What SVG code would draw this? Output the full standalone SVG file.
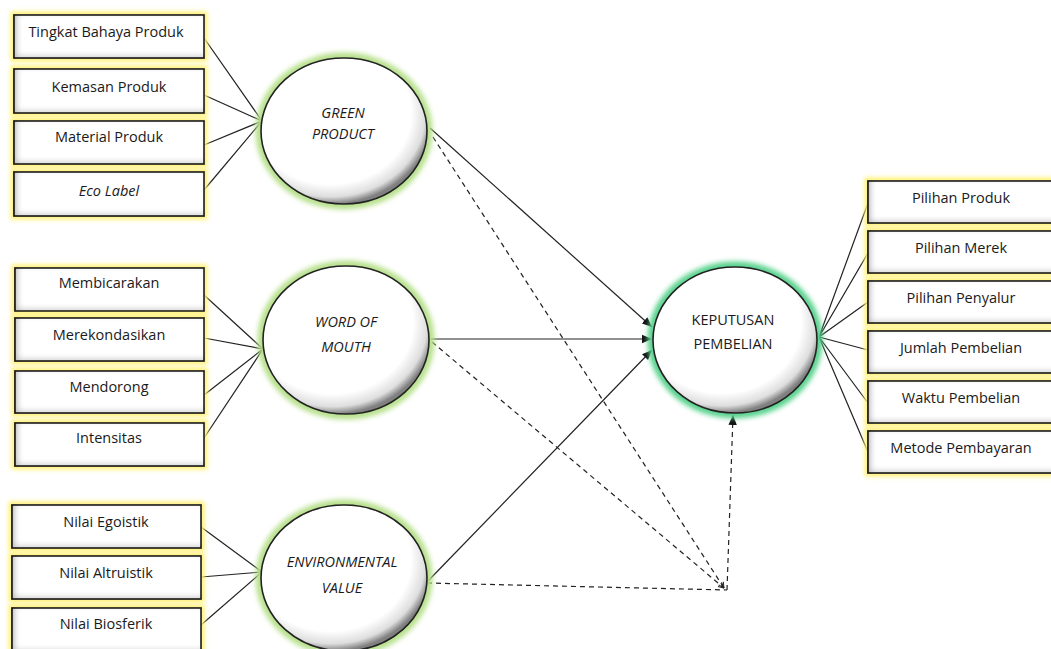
<svg xmlns="http://www.w3.org/2000/svg" width="1051" height="649" viewBox="0 0 1051 649">
<style>
.box{fill:#fff;stroke:#222;stroke-width:1.6;filter:url(#inset)}
.glowY{fill:none;stroke:#fff176;stroke-width:7;filter:url(#blur2)}
.glowG{fill:none;stroke:#b6e08a;stroke-width:9;filter:url(#blur3)}
.glowT{fill:none;stroke:#57d28c;stroke-width:9;filter:url(#blur3)}
.ell{fill:url(#shade);stroke:#222;stroke-width:1.6}
.t{font-family:"Open Sans","Liberation Sans",sans-serif;font-size:14.5px;fill:#1a1a1a;text-anchor:middle}
.it{font-style:italic}
.et{font-family:"Open Sans","Liberation Sans",sans-serif;font-size:14.5px;fill:#1a1a1a;text-anchor:middle}
.ln{stroke:#222;stroke-width:1.2;fill:none}
.dash{stroke:#222;stroke-width:1.2;fill:none;stroke-dasharray:5 4}
</style>
<defs>
<filter id="blur2" x="-20%" y="-50%" width="140%" height="200%"><feGaussianBlur stdDeviation="2"/></filter>
<filter id="blur3" x="-20%" y="-20%" width="140%" height="140%"><feGaussianBlur stdDeviation="2.5"/></filter>
<filter id="inset" x="-5%" y="-10%" width="110%" height="120%">
<feFlood flood-color="#000" flood-opacity="0.6" result="f"/>
<feComposite in="f" in2="SourceAlpha" operator="out" result="o"/>
<feOffset in="o" dx="3" dy="-2" result="oo"/>
<feGaussianBlur in="oo" stdDeviation="3" result="b"/>
<feComposite in="b" in2="SourceAlpha" operator="in" result="s"/>
<feMerge><feMergeNode in="SourceGraphic"/><feMergeNode in="s"/></feMerge>
</filter>
<radialGradient id="shade" cx="0.42" cy="0.38" r="0.62">
<stop offset="0.78" stop-color="#fff"/>
<stop offset="0.92" stop-color="#dedede"/>
<stop offset="1" stop-color="#808080"/>
</radialGradient>
<marker id="arr" viewBox="0 0 10 10" refX="10" refY="5" markerWidth="10" markerHeight="10" markerUnits="userSpaceOnUse" orient="auto">
<path d="M0,0.8 L10,5 L0,9.2 z" fill="#111"/>
</marker>
<marker id="chev" viewBox="0 0 10 10" refX="9" refY="5" markerWidth="7" markerHeight="7" markerUnits="userSpaceOnUse" orient="auto">
<path d="M1,1 L9,5 L1,9" fill="none" stroke="#222" stroke-width="1.4"/>
</marker>
</defs>
<rect width="1051" height="649" fill="#fff"/>

<g id="connectors">
<path class="ln" d="M204,38 L262,121 M204,95 L262,121 M204,145 L262,121 M204,190 L262,121"/>
<path class="ln" d="M204,295 L263,349 M204,338 L263,349 M204,395 L263,349 M204,438 L263,349"/>
<path class="ln" d="M201,527 L262,572 M201,577 L262,572 M201,625 L262,572"/>
<path class="ln" d="M819,337 L868,203 M819,337 L868,253 M819,337 L868,302 M819,337 L868,350 M819,337 L868,403 M819,337 L868,452"/>
<path class="ln" d="M430,128 L652,327" marker-end="url(#arr)"/>
<path class="ln" d="M430,339 L652,339" marker-end="url(#arr)"/>
<path class="ln" d="M427,582 L652,350" marker-end="url(#arr)"/>
<path class="dash" d="M433,137 L724,588" marker-end="url(#chev)"/>
<path class="dash" d="M432,342 L724,588" marker-end="url(#chev)"/>
<path class="dash" d="M427,583 L727,590"/>
<path class="dash" d="M727,590 L733,415" marker-end="url(#arr)"/>
</g>

<g id="gp-ind">
<g id="n-tingkat"><rect class="glowY" x="14" y="15" width="190" height="43"/><rect class="box" x="14" y="15" width="190" height="43"/><text class="t" x="106" y="37">Tingkat Bahaya Produk</text></g>
<g id="n-kemasan"><rect class="glowY" x="14" y="69" width="190" height="44"/><rect class="box" x="14" y="69" width="190" height="44"/><text class="t" x="109" y="92">Kemasan Produk</text></g>
<g id="n-material"><rect class="glowY" x="14" y="121" width="190" height="43"/><rect class="box" x="14" y="121" width="190" height="43"/><text class="t" x="109" y="142">Material Produk</text></g>
<g id="n-eco"><rect class="glowY" x="14" y="172" width="190" height="44"/><rect class="box" x="14" y="172" width="190" height="44"/><text class="t it" x="109" y="196">Eco Label</text></g>
</g>

<g id="wom-ind">
<g id="n-membicarakan"><rect class="glowY" x="15" y="268" width="189" height="43"/><rect class="box" x="15" y="268" width="189" height="43"/><text class="t" x="109" y="288">Membicarakan</text></g>
<g id="n-merekondasikan"><rect class="glowY" x="15" y="318" width="189" height="43"/><rect class="box" x="15" y="318" width="189" height="43"/><text class="t" x="109" y="340">Merekondasikan</text></g>
<g id="n-mendorong"><rect class="glowY" x="15" y="371" width="189" height="42"/><rect class="box" x="15" y="371" width="189" height="42"/><text class="t" x="109" y="392">Mendorong</text></g>
<g id="n-intensitas"><rect class="glowY" x="15" y="423" width="189" height="43"/><rect class="box" x="15" y="423" width="189" height="43"/><text class="t" x="109" y="443">Intensitas</text></g>
</g>

<g id="ev-ind">
<g id="n-egoistik"><rect class="glowY" x="12" y="505" width="189" height="43"/><rect class="box" x="12" y="505" width="189" height="43"/><text class="t" x="106" y="527">Nilai Egoistik</text></g>
<g id="n-altruistik"><rect class="glowY" x="12" y="556" width="189" height="43"/><rect class="box" x="12" y="556" width="189" height="43"/><text class="t" x="106" y="578">Nilai Altruistik</text></g>
<g id="n-biosferik"><rect class="glowY" x="12" y="608" width="189" height="44"/><rect class="box" x="12" y="608" width="189" height="44"/><text class="t" x="106" y="629">Nilai Biosferik</text></g>
</g>

<g id="kp-ind">
<g id="n-pproduk"><rect class="glowY" x="868" y="181" width="200" height="42"/><rect class="box" x="868" y="181" width="200" height="42"/><text class="t" x="961" y="203">Pilihan Produk</text></g>
<g id="n-pmerek"><rect class="glowY" x="868" y="231" width="200" height="42"/><rect class="box" x="868" y="231" width="200" height="42"/><text class="t" x="961" y="253">Pilihan Merek</text></g>
<g id="n-ppenyalur"><rect class="glowY" x="868" y="281" width="200" height="42"/><rect class="box" x="868" y="281" width="200" height="42"/><text class="t" x="961" y="303">Pilihan Penyalur</text></g>
<g id="n-jumlah"><rect class="glowY" x="868" y="331" width="200" height="42"/><rect class="box" x="868" y="331" width="200" height="42"/><text class="t" x="961" y="353">Jumlah Pembelian</text></g>
<g id="n-waktu"><rect class="glowY" x="868" y="381" width="200" height="42"/><rect class="box" x="868" y="381" width="200" height="42"/><text class="t" x="961" y="403">Waktu Pembelian</text></g>
<g id="n-metode"><rect class="glowY" x="868" y="431" width="200" height="42"/><rect class="box" x="868" y="431" width="200" height="42"/><text class="t" x="961" y="453">Metode Pembayaran</text></g>
</g>

<g id="n-green-product">
<ellipse class="glowG" cx="344" cy="131" rx="84" ry="74"/>
<ellipse class="ell" cx="344" cy="131" rx="83" ry="73"/>
<text class="et it" x="343" y="118">GREEN</text>
<text class="et it" x="343" y="139">PRODUCT</text>
</g>
<g id="n-word-of-mouth">
<ellipse class="glowG" cx="346" cy="340" rx="84" ry="75"/>
<ellipse class="ell" cx="346" cy="340" rx="83" ry="74"/>
<text class="et it" x="346" y="327">WORD OF</text>
<text class="et it" x="346" y="352">MOUTH</text>
</g>
<g id="n-environmental-value">
<ellipse class="glowG" cx="344" cy="578" rx="84" ry="74"/>
<ellipse class="ell" cx="344" cy="578" rx="83" ry="73"/>
<text class="et it" x="342" y="567">ENVIRONMENTAL</text>
<text class="et it" x="342" y="593">VALUE</text>
</g>
<g id="n-keputusan">
<ellipse class="glowT" cx="735" cy="340" rx="83" ry="74"/>
<ellipse class="ell" cx="735" cy="340" rx="82" ry="73"/>
<text class="et" x="733" y="325">KEPUTUSAN</text>
<text class="et" x="733" y="349">PEMBELIAN</text>
</g>
</svg>
